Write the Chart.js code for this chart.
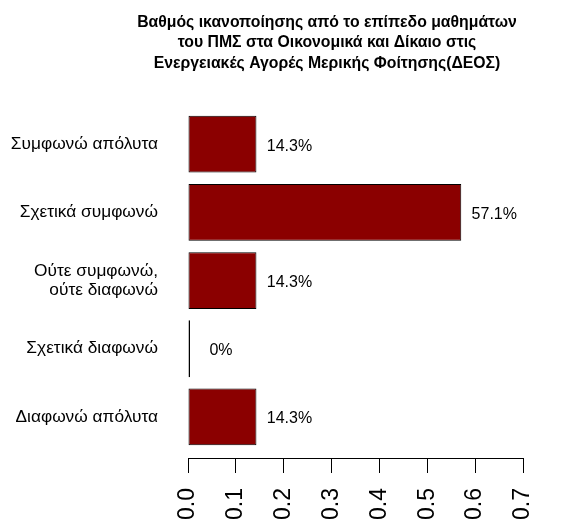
<!DOCTYPE html>
<html>
<head>
<meta charset="utf-8">
<script src="https://cdn.jsdelivr.net/npm/chart.js@4.4.1/dist/chart.umd.min.js"></script>
<style>
  html, body { margin: 0; padding: 0; background: #fff; }
</style>
</head>
<body>
<canvas id="myChart" width="572" height="522"></canvas>
<script>
// categories, top to bottom
var categories = [
  'Συμφωνώ απόλυτα',
  'Σχετικά συμφωνώ',
  ['Ούτε συμφωνώ,', 'ούτε διαφωνώ'],
  'Σχετικά διαφωνώ',
  'Διαφωνώ απόλυτα'
];
// share of answers
var shares = [0.143, 0.571, 0.143, 0, 0.143];
var shareLabels = ['14.3%', '57.1%', '14.3%', '0%', '14.3%'];
var xTicks = [0, 0.1, 0.2, 0.3, 0.4, 0.5, 0.6, 0.7];

var titleLines = [
  'Βαθμός ικανοποίησης από το επίπεδο μαθημάτων',
  'του ΠΜΣ στα Οικονομικά και Δίκαιο στις',
  'Ενεργειακές Αγορές Μερικής Φοίτησης(ΔΕΟΣ)'
];

Chart.defaults.font.family = "'Liberation Sans', Arial, sans-serif";
Chart.defaults.color = '#000';

// text next to each bar
var barText = {
  id: 'barText',
  afterLayout: function (chart) {
    // title sits a bit right of the canvas centre
    var t = chart.titleBlock;
    t.left = 82;
    t.right = 572;
    t.width = t.right - t.left;
  },
  afterDatasetsDraw: function (chart) {
    var ctx = chart.ctx;
    var xs = chart.scales.x;
    var meta = chart.getDatasetMeta(0);
    ctx.save();
    ctx.font = "16px 'Liberation Sans', Arial, sans-serif";
    ctx.fillStyle = '#000';
    ctx.textAlign = 'center';
    ctx.textBaseline = 'middle';
    meta.data.forEach(function (bar, i) {
      ctx.fillText(shareLabels[i], xs.getPixelForValue(shares[i]) + 33, bar.y + 2);
    });
    ctx.restore();
  }
};

var ctx = document.getElementById('myChart');
var chart = new Chart(ctx, {
  type: 'bar',
  data: {
    labels: categories,
    datasets: [{
      data: shares,
      xAxisID: 'x',
      yAxisID: 'y',
      backgroundColor: '#8B0000',
      borderColor: '#000',
      borderWidth: 1,
      borderSkipped: false,
      minBarLength: 2,
      barPercentage: 1,
      categoryPercentage: 1 / 1.2
    }]
  },
  options: {
    indexAxis: 'y',
    responsive: false,
    animation: false,
    layout: { padding: { left: 0, right: 49, top: 0, bottom: 0 } },
    plugins: {
      legend: { display: false },
      tooltip: { enabled: false },
      title: {
        display: true,
        text: titleLines,
        color: '#000',
        font: { size: 15.8, weight: 'bold', lineHeight: 1.31 },
        padding: { top: 12, bottom: 36 }
      }
    },
    scales: {
      x: {
        type: 'linear',
        position: 'bottom',
        weight: 1,
        min: 0,
        max: 0.7,
        afterBuildTicks: function (scale) {
          scale.ticks = xTicks.map(function (v) { return { value: v }; });
        },
        afterFit: function (scale) { scale.height = 64; },
        grid: {
          drawOnChartArea: false,
          drawTicks: true,
          tickLength: 15,
          tickColor: '#000',
          color: '#000'
        },
        border: { display: true, color: '#000', width: 1 },
        ticks: {
          minRotation: 90,
          maxRotation: 90,
          padding: 15,
          color: '#000',
          font: { size: 23 },
          callback: function (v) { return Number(v).toFixed(1); }
        }
      },
      // empty strip that keeps the axis a little below the bars
      gap: {
        type: 'linear',
        axis: 'x',
        position: 'bottom',
        weight: 0,
        grid: { display: false },
        border: { display: false },
        ticks: { display: false },
        afterFit: function (scale) { scale.height = 7; }
      },
      y: {
        type: 'category',
        position: 'left',
        offset: true,
        afterFit: function (scale) { scale.width = 188; },
        grid: { display: false, drawTicks: false },
        border: { display: false },
        ticks: {
          padding: 30,
          color: '#000',
          font: { size: 17.3, lineHeight: 1.1 }
        }
      }
    }
  },
  plugins: [barText]
});
</script>
</body>
</html>
